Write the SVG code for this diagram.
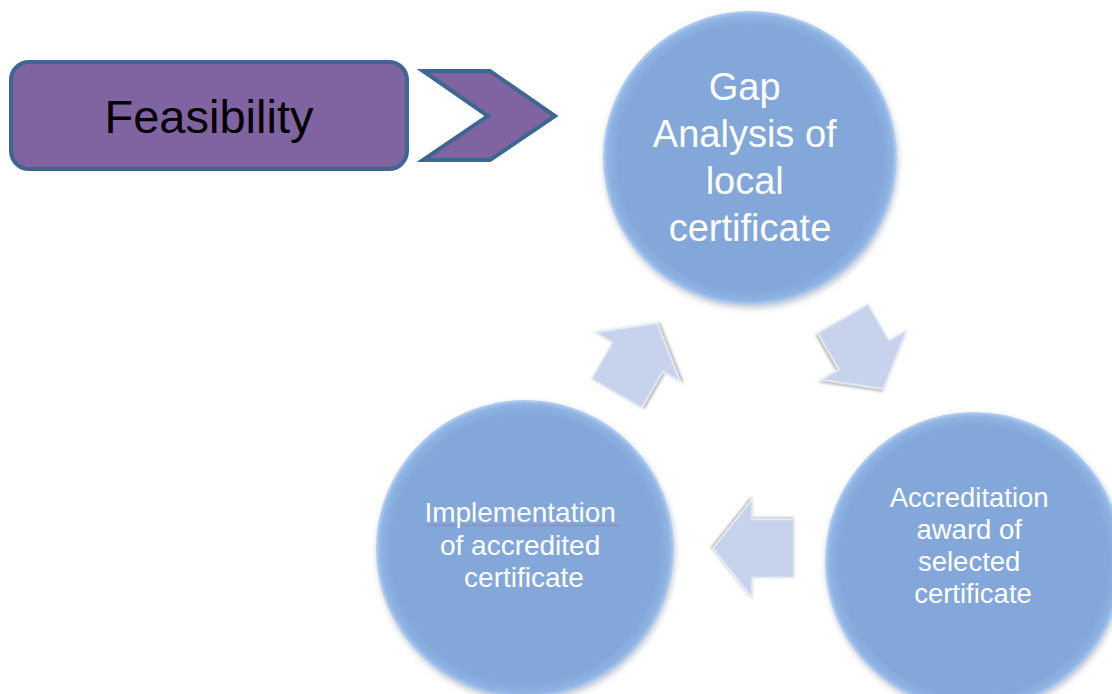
<svg xmlns="http://www.w3.org/2000/svg" width="1112" height="694" viewBox="0 0 1112 694">
  <defs>
    <radialGradient id="circFill" cx="0.5" cy="0.5" r="0.5">
      <stop offset="0" stop-color="#82a7d8"/>
      <stop offset="0.9" stop-color="#82a7d8"/>
      <stop offset="0.97" stop-color="#8fb3e3"/>
      <stop offset="1" stop-color="#b4d0f2"/>
    </radialGradient>
    <filter id="circShadow" x="-20%" y="-20%" width="140%" height="140%">
      <feGaussianBlur stdDeviation="3"/>
    </filter>
    <filter id="arrowShadow" x="-30%" y="-30%" width="160%" height="160%">
      <feGaussianBlur in="SourceAlpha" stdDeviation="1.5"/>
      <feOffset dx="1" dy="1.5" result="b"/>
      <feComponentTransfer><feFuncA type="linear" slope="0.35"/></feComponentTransfer>
      <feMerge><feMergeNode/><feMergeNode in="SourceGraphic"/></feMerge>
    </filter>
    <path id="cycArrow" d="M -42 -29 L 0 -29 L 0 -49 L 39 0 L 0 49 L 0 29 L -42 29 Z"/>
  </defs>
  <style>
    .box { fill: #8064a2; stroke: #3d6690; stroke-width: 4; stroke-linejoin: round; }
    .chev { fill: #8064a2; stroke: #3d6690; stroke-width: 4; stroke-linejoin: miter; }
    .circ { fill: url(#circFill); }
    .shadow { fill: #6f7f96; opacity: 0.45; }
    .arr { fill: #c7d2ed; stroke: #e6ebf7; stroke-width: 1.5; stroke-linejoin: miter; }
    .lbl { font-family: "Liberation Sans", Arial, sans-serif; fill: #ffffff; text-anchor: middle; }
    .dark { font-family: "Liberation Sans", Arial, sans-serif; fill: #000000; text-anchor: middle; }
  </style>
  <rect width="1112" height="694" fill="#ffffff"/>

  <g id="feasibility">
    <rect class="box" x="11" y="62" width="396" height="107" rx="18" ry="18"/>
    <text class="dark" x="209" y="133" font-size="47">Feasibility</text>
  </g>

  <g id="connectors">
    <polygon class="chev" points="423,71 490,71 555,116 490,160 423,160 488,116"/>
    <use href="#cycArrow" class="arr" filter="url(#arrowShadow)" transform="translate(637.5 357) rotate(-60)"/>
    <use href="#cycArrow" class="arr" filter="url(#arrowShadow)" transform="translate(864 355) rotate(60)"/>
    <use href="#cycArrow" class="arr" filter="url(#arrowShadow)" transform="translate(752 548.5) rotate(180)"/>
  </g>

  <g id="gap-analysis">
    <circle class="shadow" cx="751" cy="161" r="147" filter="url(#circShadow)"/>
    <circle class="circ" cx="750" cy="158" r="147"/>
    <text class="lbl" font-size="38">
      <tspan x="750" y="100">Gap</tspan>
      <tspan x="750" y="147">Analysis of</tspan>
      <tspan x="750" y="194">local</tspan>
      <tspan x="750" y="241">certificate</tspan>
    </text>
  </g>

  <g id="implementation">
    <circle class="shadow" cx="526" cy="552" r="149" filter="url(#circShadow)"/>
    <circle class="circ" cx="525" cy="549" r="149"/>
    <line x1="427" y1="525.5" x2="620" y2="525.5" stroke="#8e8fc0" stroke-width="1.5"/>
    <text class="lbl" font-size="28">
      <tspan x="524" y="522">Implementation</tspan>
      <tspan x="524" y="555">of accredited</tspan>
      <tspan x="524" y="587">certificate</tspan>
    </text>
  </g>

  <g id="accreditation">
    <circle class="shadow" cx="975" cy="564" r="149" filter="url(#circShadow)"/>
    <circle class="circ" cx="974" cy="561" r="149"/>
    <text class="lbl" font-size="27.5">
      <tspan x="973" y="507">Accreditation</tspan>
      <tspan x="973" y="539">award of</tspan>
      <tspan x="973" y="571">selected</tspan>
      <tspan x="973" y="603">certificate</tspan>
    </text>
  </g>
</svg>
